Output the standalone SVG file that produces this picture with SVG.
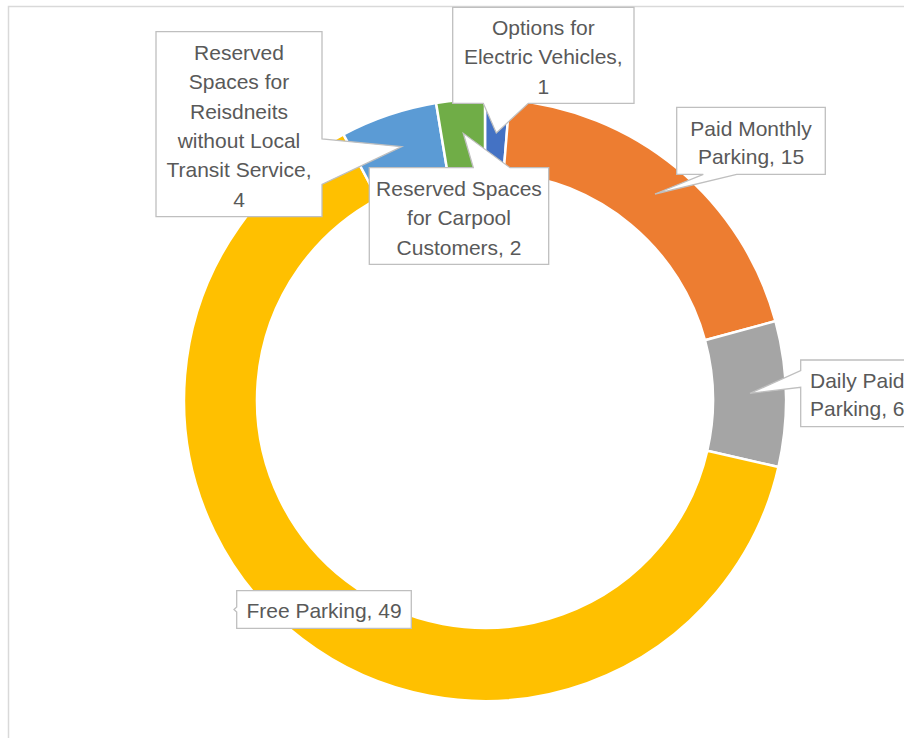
<svg xmlns="http://www.w3.org/2000/svg" width="904" height="738" viewBox="0 0 904 738">
<style>
.seg{stroke:#ffffff;stroke-width:2.5;stroke-linejoin:miter}
.box{fill:#ffffff;stroke:#bfbfbf;stroke-width:1.3}
.lbl{font-family:"Liberation Sans",Arial,sans-serif;font-size:21px;fill:#595959;text-anchor:middle}
</style>
<rect x="0" y="0" width="904" height="738" fill="#ffffff"/>
<rect x="8.5" y="6.5" width="1000" height="1000" fill="#ffffff" stroke="#d9d9d9" stroke-width="1.5"/>
<g id="donut">
<path id="seg-ev" class="seg" fill="#4472c4" d="M485,99 A301,301 0 0 1 509.53,100 L503.58,172.76 A228,228 0 0 0 485,172 Z"/>
<path id="seg-monthly" class="seg" fill="#ed7d31" d="M509.53,100 A301,301 0 0 1 775.48,321.10 L705.03,340.23 A228,228 0 0 0 503.58,172.76 Z"/>
<path id="seg-daily" class="seg" fill="#a5a5a5" d="M775.48,321.10 A301,301 0 0 1 778.45,466.98 L707.28,450.73 A228,228 0 0 0 705.03,340.23 Z"/>
<path id="seg-free" class="seg" fill="#ffc000" d="M778.45,466.98 A301,301 0 1 1 343.45,134.36 L377.78,198.78 A228,228 0 1 0 707.28,450.73 Z"/>
<path id="seg-residents" class="seg" fill="#5b9bd5" d="M343.45,134.36 A301,301 0 0 1 436.09,103.0 L447.95,175.03 A228,228 0 0 0 377.78,198.78 Z"/>
<path id="seg-carpool" class="seg" fill="#70ad47" d="M436.09,103.0 A301,301 0 0 1 485,99 L485,172 A228,228 0 0 0 447.95,175.03 Z"/>
</g>
<g id="connectors"></g>
<g id="label-residents">
<path class="box" d="M156,31.7 L322,31.7 L322,139 L401.7,146.7 L322,184.3 L322,216.7 L156,216.7 Z"/>
<text class="lbl" x="239" y="60">Reserved</text>
<text class="lbl" x="239" y="89.3">Spaces for</text>
<text class="lbl" x="239" y="118.6">Reisdneits</text>
<text class="lbl" x="239" y="147.9">without Local</text>
<text class="lbl" x="239" y="177.2">Transit Service,</text>
<text class="lbl" x="239" y="206.5">4</text>
</g>
<g id="label-carpool">
<path class="box" d="M369.3,167.7 L473.3,167.7 L463.3,133.3 L510,167.7 L548.7,167.7 L548.7,264.3 L369.3,264.3 Z"/>
<text class="lbl" x="459" y="196.3">Reserved Spaces</text>
<text class="lbl" x="459" y="225">for Carpool</text>
<text class="lbl" x="459" y="254.7">Customers, 2</text>
</g>
<g id="label-ev">
<path class="box" d="M452.7,7.3 L634,7.3 L634,103.3 L528.3,103.3 L496.3,133 L483.3,103.3 L452.7,103.3 Z"/>
<text class="lbl" x="543.3" y="34.7">Options for</text>
<text class="lbl" x="543.3" y="64">Electric Vehicles,</text>
<text class="lbl" x="543.3" y="93.5">1</text>
</g>
<g id="label-monthly">
<path class="box" d="M676.7,107.3 L825.3,107.3 L825.3,174.3 L736.7,174.3 L655,194 L703.3,174.3 L676.7,174.3 Z"/>
<text class="lbl" x="751" y="135.7">Paid Monthly</text>
<text class="lbl" x="751" y="164">Parking, 15</text>
</g>
<g id="label-daily">
<path class="box" d="M800.7,360 L916,360 L916,426.7 L800.7,426.7 L800.7,387.3 L750,393.3 L800.7,370.7 Z"/>
<text class="lbl" x="810" y="388" style="text-anchor:start">Daily Paid</text>
<text class="lbl" x="810" y="416.3" style="text-anchor:start">Parking, 6</text>
</g>
<g id="label-free">
<path class="box" d="M236.7,590.7 L411.3,590.7 L411.3,628.3 L236.7,628.3 L236.7,612 L234,609.5 L236.7,607 Z"/>
<text class="lbl" x="324" y="618">Free Parking, 49</text>
</g>
</svg>
